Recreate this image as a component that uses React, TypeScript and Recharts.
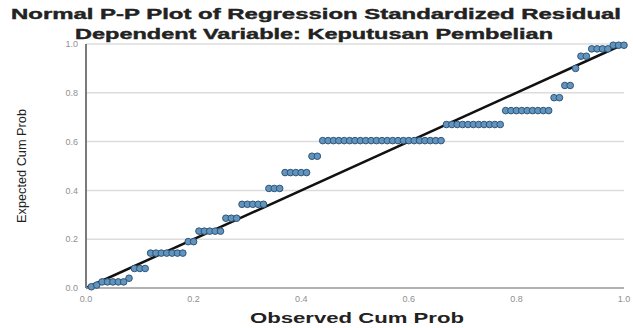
import React from "react";
import { ScatterChart, Scatter, XAxis, YAxis, CartesianGrid, ReferenceLine } from "recharts";

const observed = [
  0.01, 0.02, 0.03, 0.04, 0.05, 0.06, 0.07, 0.08, 0.09, 0.10,
  0.11, 0.12, 0.13, 0.14, 0.15, 0.16, 0.17, 0.18, 0.19, 0.20,
  0.21, 0.22, 0.23, 0.24, 0.25, 0.26, 0.27, 0.28, 0.29, 0.30,
  0.31, 0.32, 0.33, 0.34, 0.35, 0.36, 0.37, 0.38, 0.39, 0.40,
  0.41, 0.42, 0.43, 0.44, 0.45, 0.46, 0.47, 0.48, 0.49, 0.50,
  0.51, 0.52, 0.53, 0.54, 0.55, 0.56, 0.57, 0.58, 0.59, 0.60,
  0.61, 0.62, 0.63, 0.64, 0.65, 0.66, 0.67, 0.68, 0.69, 0.70,
  0.71, 0.72, 0.73, 0.74, 0.75, 0.76, 0.77, 0.78, 0.79, 0.80,
  0.81, 0.82, 0.83, 0.84, 0.85, 0.86, 0.87, 0.88, 0.89, 0.90,
  0.91, 0.92, 0.93, 0.94, 0.95, 0.96, 0.97, 0.98, 0.99, 1.00,
];

const expected = [
  0.005, 0.012, 0.025, 0.025, 0.025, 0.025, 0.025, 0.04, 0.08, 0.08,
  0.08, 0.143, 0.143, 0.143, 0.143, 0.143, 0.143, 0.143, 0.19, 0.19,
  0.233, 0.233, 0.233, 0.233, 0.233, 0.286, 0.286, 0.286, 0.343, 0.343,
  0.343, 0.343, 0.343, 0.408, 0.408, 0.408, 0.473, 0.473, 0.473, 0.473,
  0.473, 0.54, 0.54, 0.604, 0.604, 0.604, 0.604, 0.604, 0.604, 0.604,
  0.604, 0.604, 0.604, 0.604, 0.604, 0.604, 0.604, 0.604, 0.604, 0.604,
  0.604, 0.604, 0.604, 0.604, 0.604, 0.604, 0.67, 0.67, 0.67, 0.67,
  0.67, 0.67, 0.67, 0.67, 0.67, 0.67, 0.67, 0.727, 0.727, 0.727,
  0.727, 0.727, 0.727, 0.727, 0.727, 0.727, 0.78, 0.78, 0.83, 0.83,
  0.9, 0.95, 0.95, 0.98, 0.98, 0.98, 0.98, 0.995, 0.995, 0.995,
];

const ticks = [0, 0.2, 0.4, 0.6, 0.8, 1.0];
const title = "Normal P-P Plot of Regression Standardized Residual";
const subtitle = "Dependent Variable: Keputusan Pembelian";
const xLabel = "Observed Cum Prob";
const yLabel = "Expected Cum Prob";

const data = observed.map((x, i) => ({ x, y: expected[i] }));

const Dot = (props: any) => {
  const { cx, cy } = props;
  return <circle cx={cx} cy={cy} r={3.3} fill="#6294bd" stroke="#2d5478" strokeWidth={1} />;
};

export default function App() {
  const W = 633;
  const H = 328;
  return (
    <div style={{ position: "absolute", left: 0, top: 0, width: W, height: H, background: "#fff" }}>
      <ScatterChart width={W} height={H} margin={{ top: 44, right: 9, bottom: 20, left: 56 }}>
        <CartesianGrid vertical={false} stroke="#dcdcdc" strokeWidth={1.5} />
        <XAxis
          type="number"
          dataKey="x"
          domain={[0, 1]}
          ticks={ticks}
          tickFormatter={(v: number) => v.toFixed(1)}
          height={20}
          tickLine={false}
          axisLine={{ stroke: "#a0a0a0", strokeWidth: 1.5 }}
          tick={{ fontSize: 9, fill: "#909090", fontFamily: "Liberation Sans, Arial" }}
        />
        <YAxis
          type="number"
          dataKey="y"
          domain={[0, 1]}
          ticks={ticks}
          tickFormatter={(v: number) => v.toFixed(1)}
          width={30}
          tickLine={false}
          axisLine={{ stroke: "#7a7a7a", strokeWidth: 2 }}
          tick={{ fontSize: 9, fill: "#909090", fontFamily: "Liberation Sans, Arial" }}
        />
        <Scatter data={data} shape={Dot} isAnimationActive={false} />
        <ReferenceLine
          segment={[{ x: 0, y: 0 }, { x: 1, y: 1 }]}
          stroke="#111"
          strokeWidth={2.5}
          ifOverflow="visible"
        />
      </ScatterChart>
      <svg width={W} height={H} style={{ position: "absolute", left: 0, top: 0, pointerEvents: "none" }}>
        <text
          x={316}
          y={19}
          textAnchor="middle"
          fontFamily="Liberation Sans, Arial"
          fontWeight="bold"
          fontSize={15}
          fill="#222"
          stroke="#222"
          strokeWidth={0.4}
          textLength={610}
          lengthAdjust="spacingAndGlyphs"
        >
          {title}
        </text>
        <text
          x={314}
          y={39}
          textAnchor="middle"
          fontFamily="Liberation Sans, Arial"
          fontWeight="bold"
          fontSize={15}
          fill="#222"
          stroke="#222"
          strokeWidth={0.4}
          textLength={478}
          lengthAdjust="spacingAndGlyphs"
        >
          {subtitle}
        </text>
        <text
          x={357}
          y={323}
          textAnchor="middle"
          fontFamily="Liberation Sans, Arial"
          fontWeight="bold"
          fontSize={14}
          fill="#222"
          textLength={214}
          lengthAdjust="spacingAndGlyphs"
        >
          {xLabel}
        </text>
        <text
          x={0}
          y={0}
          transform="translate(26,166) rotate(-90)"
          textAnchor="middle"
          fontFamily="Liberation Sans, Arial"
          fontSize={12}
          fill="#222"
          textLength={114}
          lengthAdjust="spacingAndGlyphs"
        >
          {yLabel}
        </text>
      </svg>
    </div>
  );
}
